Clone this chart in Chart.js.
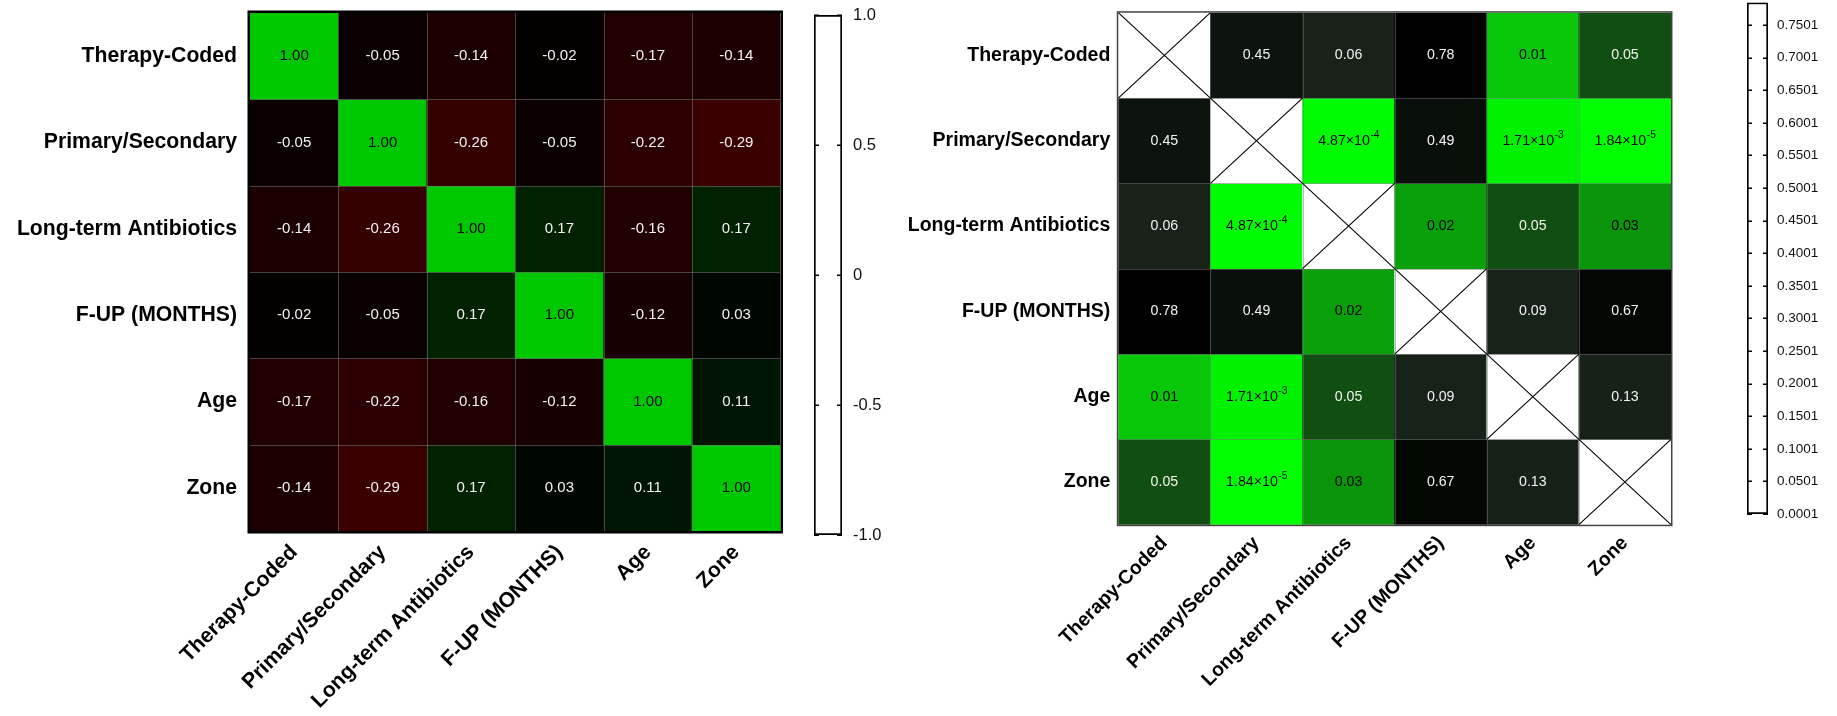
<!DOCTYPE html>
<html><head><meta charset="utf-8">
<script src="https://cdn.jsdelivr.net/npm/chart.js@4.4.1/dist/chart.umd.min.js"></script>
<style>
html,body{margin:0;padding:0;background:#fff;}
#wrap{position:relative;width:1837px;height:716px;overflow:hidden;background:#fff;}
canvas{position:absolute;top:0;}
</style></head><body>
<div id="wrap">
<canvas id="c1" width="800" height="716" style="left:0;width:800px;height:716px"></canvas>
<canvas id="c2" width="110" height="716" style="left:800px;width:110px;height:716px"></canvas>
<canvas id="c3" width="820" height="716" style="left:880px;width:820px;height:716px"></canvas>
<canvas id="c4" width="137" height="716" style="left:1700px;width:137px;height:716px"></canvas>
</div>
<script>
// ---------- data ----------
const variables = ['Therapy-Coded','Primary/Secondary','Long-term Antibiotics','F-UP (MONTHS)','Age','Zone'];

// correlation coefficients (left map), one array per row
const rTherapy   = [ 1.00, -0.05, -0.14, -0.02, -0.17, -0.14];
const rPrimary   = [-0.05,  1.00, -0.26, -0.05, -0.22, -0.29];
const rAntibiot  = [-0.14, -0.26,  1.00,  0.17, -0.16,  0.17];
const rFup       = [-0.02, -0.05,  0.17,  1.00, -0.12,  0.03];
const rAge       = [-0.17, -0.22, -0.16, -0.12,  1.00,  0.11];
const rZone      = [-0.14, -0.29,  0.17,  0.03,  0.11,  1.00];
const rMatrix = [rTherapy, rPrimary, rAntibiot, rFup, rAge, rZone];

// p-values (right map), null = diagonal
const pTherapy   = [null,    0.45,    0.06,    0.78,  0.01,    0.05];
const pPrimary   = [0.45,    null,    4.87e-4, 0.49,  1.71e-3, 1.84e-5];
const pAntibiot  = [0.06,    4.87e-4, null,    0.02,  0.05,    0.03];
const pFup       = [0.78,    0.49,    0.02,    null,  0.09,    0.67];
const pAge       = [0.01,    1.71e-3, 0.05,    0.09,  null,    0.13];
const pZone      = [0.05,    1.84e-5, 0.03,    0.67,  0.13,    null];
const pMatrix = [pTherapy, pPrimary, pAntibiot, pFup, pAge, pZone];

// colour-bar ranges and tick labels
const rRange = [-1, 1];
const rTickLabels = ['-1.0','-0.5','0','0.5','1.0'];
const pRange = [0.0001, 0.7846];
const pTickLabels = ['0.0001','0.0501','0.1001','0.1501','0.2001','0.2501','0.3001','0.3501',
                     '0.4001','0.4501','0.5001','0.5501','0.6001','0.6501','0.7001','0.7501'];

// ---------- styling ----------
const FAM = '"Liberation Sans", Arial, Helvetica, sans-serif';
Chart.defaults.font.family = FAM;

function rColor(v) {
  return v >= 0 ? `rgb(0,${Math.round(200 * v)},0)` : `rgb(${Math.round(-200 * v)},0,0)`;
}
const pStops = [
  [0,      [0,255,0]],
  [0.0005, [0,252,0]],
  [0.002,  [0,240,0]],
  [0.01,   [9,200,9]],
  [0.02,   [10,160,10]],
  [0.03,   [10,149,10]],
  [0.05,   [17,78,17]],
  [0.06,   [24,34,25]],
  [0.13,   [22,34,24]],
  [0.45,   [11,20,13]],
  [0.49,   [9,15,11]],
  [0.67,   [3,6,3]],
  [0.78,   [0,0,0]],
  [1,      [0,0,0]]
];
function pRGB(v) {
  for (let k = 1; k < pStops.length; k++) {
    if (v <= pStops[k][0]) {
      const [a, ca] = pStops[k-1], [b, cb] = pStops[k];
      const t = (v - a) / (b - a);
      return ca.map((c, i) => Math.round(c + (cb[i] - c) * t));
    }
  }
  return [0,0,0];
}
function pColor(v) { const c = pRGB(v); return `rgb(${c[0]},${c[1]},${c[2]})`; }

function drawValue(ctx, v, cx, cy, o) {
  const fs = o.fontSize;
  ctx.fillStyle = o.textColor(v);
  ctx.textBaseline = 'middle';
  if (o.sci && v < 0.005) {
    const e = Math.floor(Math.log10(v));
    const m = (v / Math.pow(10, e)).toFixed(2);
    const base = m + '\u00d710', sup = String(e);
    ctx.font = `${fs}px ${FAM}`; const wb = ctx.measureText(base).width;
    ctx.font = `${fs * 0.72}px ${FAM}`; const ws = ctx.measureText(sup).width;
    const x0 = cx - (wb + ws) / 2;
    ctx.textAlign = 'left';
    ctx.font = `${fs}px ${FAM}`; ctx.fillText(base, x0, cy);
    ctx.font = `${fs * 0.72}px ${FAM}`; ctx.fillText(sup, x0 + wb + 0.5, cy - fs * 0.38);
  } else {
    ctx.textAlign = 'center';
    ctx.font = `${fs}px ${FAM}`;
    ctx.fillText(v.toFixed(2), cx, cy);
  }
}

const heatOverlay = {
  id: 'heatOverlay',
  afterDatasetsDraw(chart, args, o) {
    const {ctx, chartArea: ca, scales: {x, y}} = chart;
    ctx.save();
    // cell separators
    ctx.strokeStyle = o.gridColor; ctx.lineWidth = 1;
    ctx.beginPath();
    for (let j = 1; j < variables.length; j++) {
      const px = Math.round(x.getPixelForValue(j - 0.5)) + 0.5;
      ctx.moveTo(px, ca.top); ctx.lineTo(px, ca.bottom);
    }
    for (let i = 1; i < variables.length; i++) {
      const py = Math.round(y.getPixelForValue(i - 0.5)) + 0.5;
      ctx.moveTo(ca.left, py); ctx.lineTo(ca.right, py);
    }
    ctx.stroke();
    o.matrix.forEach((row, i) => {
      const meta = chart.getDatasetMeta(i);
      row.forEach((v, j) => {
        const el = meta.data[j];
        const top = Math.min(el.y, el.base), bot = Math.max(el.y, el.base);
        const left = el.x - el.width / 2, right = el.x + el.width / 2;
        if (v === null) {
          ctx.strokeStyle = '#000'; ctx.lineWidth = 1.1;
          ctx.beginPath();
          ctx.moveTo(left, top); ctx.lineTo(right, bot);
          ctx.moveTo(right, top); ctx.lineTo(left, bot);
          ctx.stroke();
        } else {
          drawValue(ctx, v, el.x, (top + bot) / 2, o);
        }
      });
    });
    ctx.strokeStyle = o.borderColor; ctx.lineWidth = o.borderWidth;
    const h = o.borderWidth / 2;
    ctx.strokeRect(ca.left - h, ca.top - h, ca.width + 2 * h, ca.height + 2 * h);
    ctx.restore();
  }
};

function heatmap(id, matrix, colorFn, g, overlay) {
  const datasets = matrix.map((row, i) => ({
    data: row.map(() => [i - 0.5, i + 0.5]),
    backgroundColor: row.map(v => v === null ? '#ffffff' : colorFn(v)),
    borderWidth: 0,
    grouped: false,
    categoryPercentage: 1,
    barPercentage: 1
  }));
  return new Chart(document.getElementById(id), {
    type: 'bar',
    data: { labels: variables, datasets },
    options: {
      responsive: false, animation: false, maintainAspectRatio: false,
      layout: { padding: { left: 0, top: g.top, right: g.right, bottom: 0 } },
      plugins: { legend: { display: false }, tooltip: { enabled: false }, heatOverlay: overlay },
      scales: {
        x: {
          type: 'category', offset: true,
          grid: { display: false, drawTicks: false }, border: { display: false },
          ticks: { autoSkip: false, maxRotation: 45, minRotation: 45, padding: g.xPad, color: '#000',
                   font: { family: FAM, size: g.fs, weight: 'bold' } },
          afterFit: s => { s.height = g.xH; s.paddingLeft = 0; s.paddingRight = 0; }
        },
        y: {
          type: 'linear', min: -0.5, max: variables.length - 0.5, reverse: true,
          grid: { display: false, drawTicks: false }, border: { display: false },
          afterBuildTicks: s => { s.ticks = variables.map((_, i) => ({ value: i })); },
          ticks: { autoSkip: false, callback: v => variables[v], padding: g.yPad, color: '#000',
                   font: { family: FAM, size: g.fs, weight: 'bold' } },
          afterFit: s => { s.width = g.yW; s.paddingTop = 0; s.paddingBottom = 0; }
        }
      }
    },
    plugins: [heatOverlay]
  });
}

const insideTicks = {
  id: 'insideTicks',
  afterDatasetsDraw(chart, args, o) {
    const {ctx, chartArea: ca, scales: {y}} = chart;
    ctx.save();
    ctx.strokeStyle = '#000'; ctx.lineWidth = 1.5;
    ctx.beginPath();
    y.ticks.forEach(t => {
      const py = Math.round(y.getPixelForValue(t.value)) + 0.25;
      ctx.moveTo(ca.left, py); ctx.lineTo(ca.left + o.len, py);
      ctx.moveTo(ca.right - o.len, py); ctx.lineTo(ca.right, py);
    });
    ctx.stroke();
    ctx.restore();
  }
};

function colorbar(id, range, labels, g) {
  return new Chart(document.getElementById(id), {
    type: 'bar',
    data: { labels: [''], datasets: [{
      data: [range], backgroundColor: '#ffffff', borderColor: '#000', borderWidth: 2,
      borderSkipped: false, categoryPercentage: 1, barPercentage: 1 }] },
    options: {
      responsive: false, animation: false, maintainAspectRatio: false,
      layout: { padding: { left: g.left, top: g.top, right: g.right, bottom: g.bottom } },
      plugins: { legend: { display: false }, tooltip: { enabled: false }, insideTicks: { len: g.tick } },
      scales: {
        x: { display: false, offset: true },
        y: {
          position: 'right', min: range[0], max: range[1],
          grid: { display: false, drawTicks: false }, border: { display: false },
          afterBuildTicks: s => { s.ticks = labels.map(t => ({ value: parseFloat(t) })); },
          ticks: { autoSkip: false, callback: (v, i) => labels[i], padding: g.pad, color: '#111',
                   font: { family: FAM, size: g.fs } },
          afterFit: s => { s.width = g.axisW; s.paddingTop = 0; s.paddingBottom = 0; }
        }
      }
    },
    plugins: [insideTicks]
  });
}

heatmap('c1', rMatrix, rColor,
  { top: 13, right: 19.5, xH: 185, yW: 250, yPad: 13, xPad: 9, fs: 21.2 },
  { matrix: rMatrix, gridColor: 'rgba(120,120,120,0.55)', borderColor: '#000', borderWidth: 2.5,
    fontSize: 15, sci: false, textColor: v => v > 0.5 ? '#000' : '#f2f2f2' });

colorbar('c2', rRange, rTickLabels,
  { left: 14, top: 15, right: 12, bottom: 181, axisW: 56, pad: 11, fs: 16.5, tick: 5 });

heatmap('c3', pMatrix, pColor,
  { top: 12.7, right: 29, xH: 191.3, yW: 238.3, yPad: 8, xPad: 7, fs: 19.5 },
  { matrix: pMatrix, gridColor: 'rgba(120,120,120,0.5)', borderColor: '#444', borderWidth: 1.5,
    fontSize: 14.2, sci: true, textColor: v => pRGB(v)[1] > 120 ? '#000' : '#f2f2f2' });

colorbar('c4', pRange, pTickLabels,
  { left: 47, top: 2.5, right: 9, bottom: 202, axisW: 60, pad: 9, fs: 13.5, tick: 5 });
</script>
</body></html>
